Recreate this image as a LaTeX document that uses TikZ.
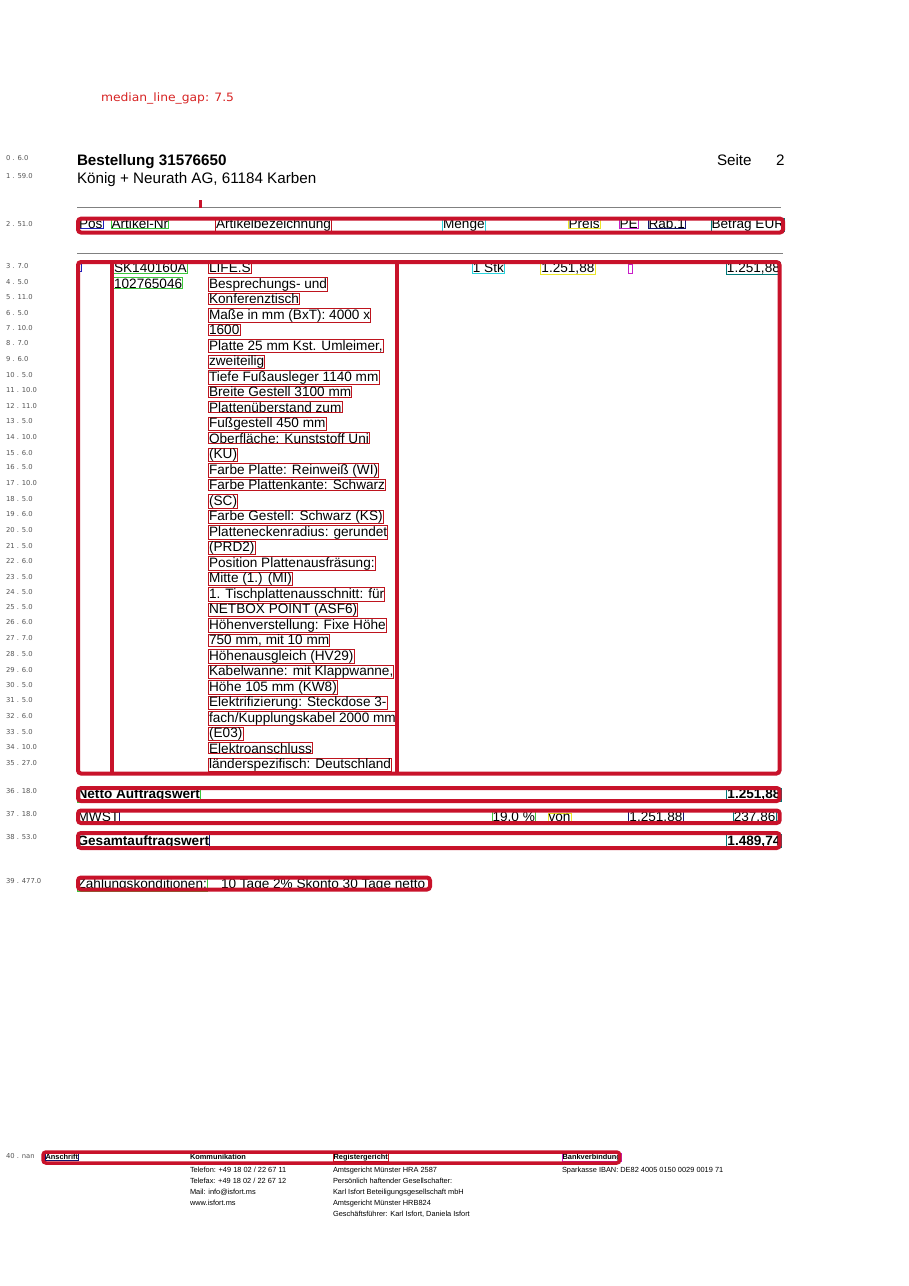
\documentclass[tikz,border=0pt]{standalone}
\usepackage{fontspec}
\usepackage{graphicx}
\setmainfont{Liberation Sans}
\newfontfamily\labfont{DejaVu Sans}
\newfontfamily\medfont{DejaVu Sans}
\definecolor{boxred}{RGB}{200,18,42}
\definecolor{thinred}{RGB}{190,20,30}
\definecolor{cgreen}{RGB}{60,200,60}
\definecolor{cblue}{RGB}{30,30,190}
\definecolor{cnavy}{RGB}{20,20,110}
\definecolor{ccyan}{RGB}{40,210,220}
\definecolor{cyellow}{RGB}{235,230,40}
\definecolor{cmag}{RGB}{200,30,200}
\definecolor{cteal}{RGB}{0,120,120}
\definecolor{rulegray}{RGB}{128,128,128}
\definecolor{labgray}{RGB}{85,85,85}
\definecolor{medred}{RGB}{215,35,35}
\begin{document}
\begin{tikzpicture}[x=1pt,y=-1pt,
  every node/.style={inner sep=0pt, outer sep=0pt},
  tt/.style={anchor=base west, font=\fontsize{13.6}{15}\selectfont},
  tr/.style={anchor=base east, font=\fontsize{13.6}{15}\selectfont},
  ttb/.style={anchor=base west, font=\fontsize{13.6}{15}\selectfont\bfseries},
  trb/.style={anchor=base east, font=\fontsize{13.6}{15}\selectfont\bfseries},
  ob/.style={draw=#1, line width=0.9pt, inner sep=0.6pt},
  bigbox/.style={draw=boxred, line width=4pt, rounded corners=3pt},
  redbar/.style={draw=boxred, line width=4pt},
  lab/.style={anchor=west, font=\labfont\fontsize{6.8}{7}\selectfont, text=labgray},
  ft/.style={anchor=base west, font=\fontsize{7.4}{8}\selectfont},
  ftb/.style={anchor=base west, font=\fontsize{7.4}{8}\selectfont\bfseries},
  head/.style={anchor=base west, font=\fontsize{15.2}{17}\selectfont},
  headb/.style={anchor=base west, font=\fontsize{15.2}{17}\selectfont\bfseries},
]
\useasboundingbox[fill=white] (0,0) rectangle (909,1286);

% debug caption
\node[anchor=base west, text=medred, font=\medfont\fontsize{11.5}{12}\selectfont] (med) at (101,101) {\resizebox{133pt}{\height}{median\_line\_gap: 7.5}};

% row labels
\foreach \l/\y [count=\i] in {0 . 6.0/158, 1 . 59.0/176, 2 . 51.0/224, 3 . 7.0/266, 4 . 5.0/282, 5 . 11.0/297, 6 . 5.0/313, 7 . 10.0/328, 8 . 7.0/343, 9 . 6.0/359, 10 . 5.0/375, 11 . 10.0/390, 12 . 11.0/406, 13 . 5.0/421, 14 . 10.0/437, 15 . 6.0/453, 16 . 5.0/467, 17 . 10.0/483, 18 . 5.0/499, 19 . 6.0/514, 20 . 5.0/530, 21 . 5.0/546, 22 . 6.0/561, 23 . 5.0/577, 24 . 5.0/592, 25 . 5.0/607, 26 . 6.0/622, 27 . 7.0/638, 28 . 5.0/654, 29 . 6.0/670, 30 . 5.0/685, 31 . 5.0/700, 32 . 6.0/716, 33 . 5.0/732, 34 . 10.0/747, 35 . 27.0/763, 36 . 18.0/791, 37 . 18.0/814, 38 . 53.0/837, 39 . 477.0/881, 40 . nan/1156}
  \node[lab] (lab\i) at (6,\y) {\l};

% page header
\node[headb] (title) at (77,165.5) {Bestellung 31576650};
\node[head] (firm) at (77,183) {König + Neurath AG, 61184 Karben};
\node[head] (seite) at (717,165.5) {Seite};
\node[head] (seitenr) at (776,165.5) {2};

% rules
\coordinate (r1a) at (77,207); \coordinate (r1b) at (781,207);
\coordinate (r2a) at (77,253); \coordinate (r2b) at (783,253);
\draw[rulegray, line width=1pt] (r1a) -- (r1b);
\draw[rulegray, line width=1pt] (r2a) -- (r2b);
\coordinate (tka) at (200.5,200); \coordinate (tkb) at (200.5,208);
\draw[boxred, line width=2.2pt] (tka) -- (tkb);

% column header
\node[tt, ob=cblue] (hpos) at (78.5,228) {Pos};
\node[tt, ob=cgreen] (hart) at (111,228) {Artikel-Nr};
\node[tt, ob=thinred] (hbez) at (215.5,228) {Artikelbezeichnung};
\node[tt, ob=ccyan] (hmen) at (442.5,228) {Menge};
\node[tt, ob=cyellow] (hpre) at (568,228) {Preis};
\node[tt, ob=cmag] (hpe) at (619,228) {PE};
\node[tt, ob=cnavy] (hrab) at (648,228) {Rab.1};
\node[tt, ob=cteal] (hbet) at (711,228) {Betrag EUR};

% item row
\node[tt, ob=cgreen] (art1) at (113.5,272.5) {SK140160A};
\node[tt, ob=cgreen] (art2) at (113.5,288) {102765046};
\foreach \t [count=\i from 3] in {LIFE.S, Besprechungs- und, Konferenztisch, Maße in mm (BxT): 4000 x, 1600, {Platte 25 mm Kst. Umleimer,}, zweiteilig, Tiefe Fußausleger 1140 mm, Breite Gestell 3100 mm, Plattenüberstand zum, Fußgestell 450 mm, Oberfläche: Kunststoff Uni, (KU), Farbe Platte: Reinweiß (WI), Farbe Plattenkante: Schwarz, (SC), Farbe Gestell: Schwarz (KS), Platteneckenradius: gerundet, (PRD2), Position Plattenausfräsung:, Mitte (1.) (MI), 1. Tischplattenausschnitt: für, NETBOX POINT (ASF6), Höhenverstellung: Fixe Höhe, {750 mm, mit 10 mm}, Höhenausgleich (HV29), {Kabelwanne: mit Klappwanne,}, Höhe 105 mm (KW8), Elektrifizierung: Steckdose 3-, fach/Kupplungskabel 2000 mm, (E03), Elektroanschluss, länderspezifisch: Deutschland}
  \node[tt, ob=thinred] (d\i) at (208.5,{272.5+15.5*(\i-3)}) {\t};
\node[tr, ob=ccyan] (men1) at (504.5,272.5) {1 Stk};
\node[tr, ob=cyellow] (pre1) at (595,272.5) {1.251,88};
\node[draw=cmag, line width=0.9pt, minimum width=4pt, minimum height=9pt] (pe1) at (630,268.5) {};
\node[draw=cblue, line width=0.9pt, minimum width=2pt, minimum height=8pt] (pos1) at (80.5,267) {};
\node[tr, ob=cteal] (bet1) at (780.5,272.5) {1.251,88};

% totals
\node[ttb, ob=cgreen] (netl) at (77,798.5) {Netto Auftragswert};
\node[trb, ob=cteal] (netv) at (781,798.5) {1.251,88};
\node[tt, ob=cnavy] (mwl) at (77,821) {MWST};
\node[tr, ob=cgreen] (mwp) at (535.5,821) {19.0 \%};
\node[tt, ob=cyellow] (mwvon) at (548,821) {von};
\node[tr, ob=cnavy] (mwb) at (683,821) {1.251,88};
\node[tr, ob=cteal] (mwv) at (776,821) {237,86};
\node[ttb, ob=cnavy] (gesl) at (77,845) {Gesamtauftragswert};
\node[trb, ob=cteal] (gesv) at (781,845) {1.489,74};
\node[tt, ob=cgreen] (zahl) at (77,888) {Zahlungskonditionen:};
\node[tt] (zahv) at (221,888) {10 Tage 2\% Skonto 30 Tage netto};

% thick boxes
\draw[bigbox] (78,218.7) rectangle (783,232.5);
\draw[bigbox] (78,262) rectangle (779.5,773.5);
\coordinate (v1a) at (111.5,262); \coordinate (v1b) at (111.5,773.5);
\coordinate (v2a) at (396.5,262); \coordinate (v2b) at (396.5,773.5);
\draw[redbar] (v1a) -- (v1b);
\draw[redbar] (v2a) -- (v2b);
\draw[bigbox] (78,788) rectangle (779.7,801);
\draw[bigbox] (78,810.5) rectangle (779.7,823);
\draw[bigbox] (78,833) rectangle (779.7,848);
\draw[bigbox] (78,877.5) rectangle (430,889.5);

% footer
\node[ftb, ob=cnavy] (fa) at (45,1159.5) {Anschrift};
\node[ftb] (fk) at (190,1159.5) {Kommunikation};
\node[ftb, ob=thinred] (fr) at (333,1159.5) {Registergericht};
\node[ftb, ob=cmag] (fb) at (562,1159.5) {Bankverbindung};
\draw[bigbox, line width=3.5pt] (43,1152) rectangle (619.7,1163);
\node[ft] (k1) at (190,1172) {Telefon: +49 18 02 / 22 67 11};
\node[ft] (k2) at (190,1183.3) {Telefax: +49 18 02 / 22 67 12};
\node[ft] (k3) at (190,1194.3) {Mail: info@isfort.ms};
\node[ft] (k4) at (190,1205.3) {www.isfort.ms};
\node[ft] (g1) at (333,1172) {Amtsgericht Münster HRA 2587};
\node[ft] (g2) at (333,1183.3) {Persönlich haftender Gesellschafter:};
\node[ft] (g3) at (333,1194.3) {Karl Isfort Beteiligungsgesellschaft mbH};
\node[ft] (g4) at (333,1205.3) {Amtsgericht Münster HRB824};
\node[ft] (g5) at (333,1216.3) {Geschäftsführer: Karl Isfort, Daniela Isfort};
\node[ft] (b1) at (562,1172) {Sparkasse IBAN: DE82 4005 0150 0029 0019 71};
\end{tikzpicture}
\end{document}
